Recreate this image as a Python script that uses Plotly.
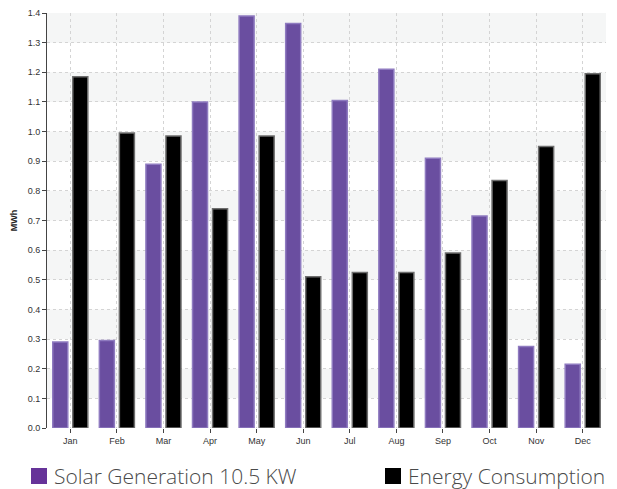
import plotly.graph_objects as go

months = ["Jan", "Feb", "Mar", "Apr", "May", "Jun", "Jul", "Aug", "Sep", "Oct", "Nov", "Dec"]
solar = [0.29, 0.295, 0.89, 1.10, 1.39, 1.365, 1.105, 1.21, 0.91, 0.715, 0.275, 0.215]
consumption = [1.185, 0.995, 0.985, 0.74, 0.985, 0.51, 0.525, 0.525, 0.59, 0.835, 0.95, 1.195]
y_ticks = [round(i * 0.1, 1) for i in range(15)]
series_names = ["Solar Generation 10.5 KW", "Energy Consumption"]
legend_colors = ["#663399", "#000000"]

fig = go.Figure()
fig.add_trace(go.Bar(
    x=months, y=solar, name=series_names[0],
    marker=dict(color="#6a4ea0", line=dict(color="#8f7bc0", width=1.5)),
))
fig.add_trace(go.Bar(
    x=months, y=consumption, name=series_names[1],
    marker=dict(color="#000000", line=dict(color="#6e6e6e", width=1.5)),
))

shapes = []
for i in range(1, 14, 2):
    shapes.append(dict(type="rect", xref="paper", yref="y", x0=0, x1=1,
                       y0=y_ticks[i], y1=y_ticks[i + 1],
                       fillcolor="#f5f6f6", line=dict(width=0), layer="below"))

# manual legend (pixel positions converted to paper coords)
PL, PW, PB, PH = 47, 559, 428, 415
def px(x):
    return (x - PL) / PW
def py(y):
    return (PB - y) / PH

legend_x = [31, 385]
annotations = []
for lx, name, col in zip(legend_x, series_names, legend_colors):
    shapes.append(dict(type="rect", xref="paper", yref="paper",
                       x0=px(lx), x1=px(lx + 16), y0=py(484), y1=py(468),
                       fillcolor=col, line=dict(width=0)))
    annotations.append(dict(xref="paper", yref="paper", x=px(lx + 21), y=py(476),
                            xanchor="left", yanchor="middle", showarrow=False,
                            text=name,
                            font=dict(family="Open Sans", size=21, color="#4a4a4a", weight=300)))

fig.update_layout(
    width=617, height=489,
    margin=dict(l=47, r=11, t=13, b=61, autoexpand=False),
    paper_bgcolor="white", plot_bgcolor="white",
    barmode="group", bargap=0.14, bargroupgap=0.25,
    shapes=shapes, annotations=annotations,
    font=dict(family="Liberation Sans, Arial", size=9, color="#333"),
    showlegend=False,
    xaxis=dict(
        showgrid=True, gridcolor="#d4d4d4", griddash="dot", gridwidth=1,
        ticks="outside", ticklen=4, tickcolor="#444",
        showline=False, zeroline=False,
        tickfont=dict(size=9, color="#333"),
    ),
    yaxis=dict(
        range=[0, 1.4], tickvals=y_ticks, tickformat=".1f",
        showgrid=True, gridcolor="#d4d4d4", griddash="dot", gridwidth=1,
        ticks="outside", ticklen=4, tickcolor="#444",
        showline=True, linecolor="#444", linewidth=1,
        zeroline=False,
        tickfont=dict(size=9, color="#333"),
        title=dict(text="<b>MWh</b>", font=dict(size=9, color="#222"), standoff=8),
    ),
)

fig.write_html("out.html", config={"displayModeBar": False},
               post_script="document.body.style.margin='0';document.body.style.overflow='hidden';")
